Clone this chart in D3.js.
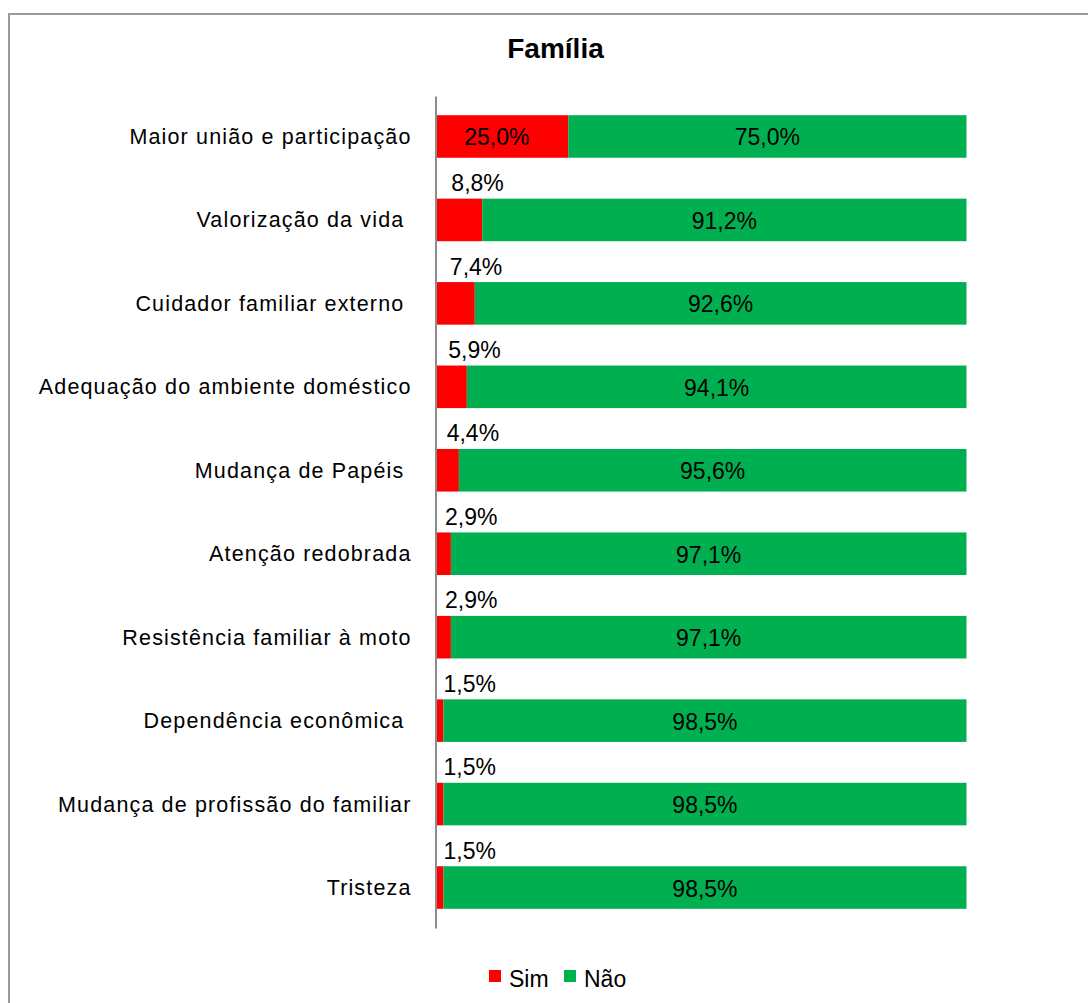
<!DOCTYPE html>
<html><head><meta charset="utf-8">
<script src="https://cdnjs.cloudflare.com/ajax/libs/d3/7.8.5/d3.min.js"></script>
<style>
html,body{margin:0;padding:0;background:#fff;}
svg{display:block;font-family:"Liberation Sans",Arial,sans-serif;}
</style></head>
<body><svg id="chart" width="1088" height="1003"></svg>
<script>
const categories = ["Maior união e participação", "Valorização da vida ", "Cuidador familiar externo ", "Adequação do ambiente doméstico", "Mudança de Papéis ", "Atenção redobrada", "Resistência familiar à moto", "Dependência econômica ", "Mudança de profissão do familiar", "Tristeza"];
const sim = [25.0, 8.8, 7.4, 5.9, 4.4, 2.9, 2.9, 1.5, 1.5, 1.5];
const nao = [75.0, 91.2, 92.6, 94.1, 95.6, 97.1, 97.1, 98.5, 98.5, 98.5];
const seriesNames = ["Sim", "Não"];
const title = "Família";

const RED = "#ff0000", GREEN = "#00b050";
const fmt = v => v.toFixed(1).replace(".", ",") + "%";

const svg = d3.select("#chart");
// chart border
svg.append("rect").attr("x", 9).attr("y", 14).attr("width", 1200).attr("height", 1100)
  .attr("fill", "#fff").attr("stroke", "#9a9a9a").attr("stroke-width", 2);

svg.append("text").attr("x", 555.5).attr("y", 58).attr("text-anchor", "middle")
  .attr("font-size", 28).attr("font-weight", "bold").attr("fill", "#000").text(title);

const x = d3.scaleLinear().domain([0, 100]).range([435.5, 966.5]);
const y = d3.scaleBand().domain(categories).range([96, 928]).paddingInner(0.49).paddingOuter(0.23);

const rows = categories.map((c, i) => ({cat: c, sim: sim[i], nao: nao[i]}));

const g = svg.append("g");
// bars
g.selectAll(".sim").data(rows).join("rect")
  .attr("x", x(0)).attr("y", d => y(d.cat))
  .attr("width", d => x(d.sim) - x(0)).attr("height", y.bandwidth()).attr("fill", RED);
g.selectAll(".nao").data(rows).join("rect")
  .attr("x", d => x(d.sim)).attr("y", d => y(d.cat))
  .attr("width", d => x(d.sim + d.nao) - x(d.sim)).attr("height", y.bandwidth()).attr("fill", GREEN);

// axis (category) line
const yAxis = d3.axisLeft(y).tickSize(0).tickPadding(24);
const ax = svg.append("g").attr("transform", `translate(${x(0)},0)`).call(yAxis);
ax.select(".domain").attr("stroke", "#8c8c8c").attr("stroke-width", 2);
ax.selectAll("text").attr("font-size", 21.5).attr("fill", "#000")
  .attr("font-family", '"Liberation Sans",Arial,sans-serif')
  .style("letter-spacing", "1.15px").style("white-space", "pre").attr("dy", "0.35em");

// data labels
g.selectAll(".nl").data(rows).join("text")
  .attr("x", d => x(d.sim + d.nao / 2)).attr("y", d => y(d.cat) + y.bandwidth() / 2 + 9)
  .attr("text-anchor", "middle").attr("font-size", 23).attr("fill", "#000").text(d => fmt(d.nao));
g.selectAll(".sl").data(rows).join("text")
  .attr("x", d => d.sim >= 10 ? x(d.sim / 2) - 5 : x(d.sim * 0.2) + 6.5)
  .attr("y", d => d.sim >= 10 ? y(d.cat) + y.bandwidth() / 2 + 9 : y(d.cat) - 7.5)
  .attr("text-anchor", d => d.sim >= 10 ? "middle" : "start")
  .attr("font-size", 23).attr("fill", "#000").text(d => fmt(d.sim));

// legend
const leg = svg.append("g");
const legX = [489, 564];
seriesNames.forEach((n, i) => {
  leg.append("rect").attr("x", legX[i]).attr("y", 970).attr("width", 12).attr("height", 12)
    .attr("fill", i === 0 ? RED : GREEN);
  leg.append("text").attr("x", legX[i] + 20).attr("y", 987).attr("font-size", 23).attr("fill", "#000").text(n);
});
</script></body></html>
